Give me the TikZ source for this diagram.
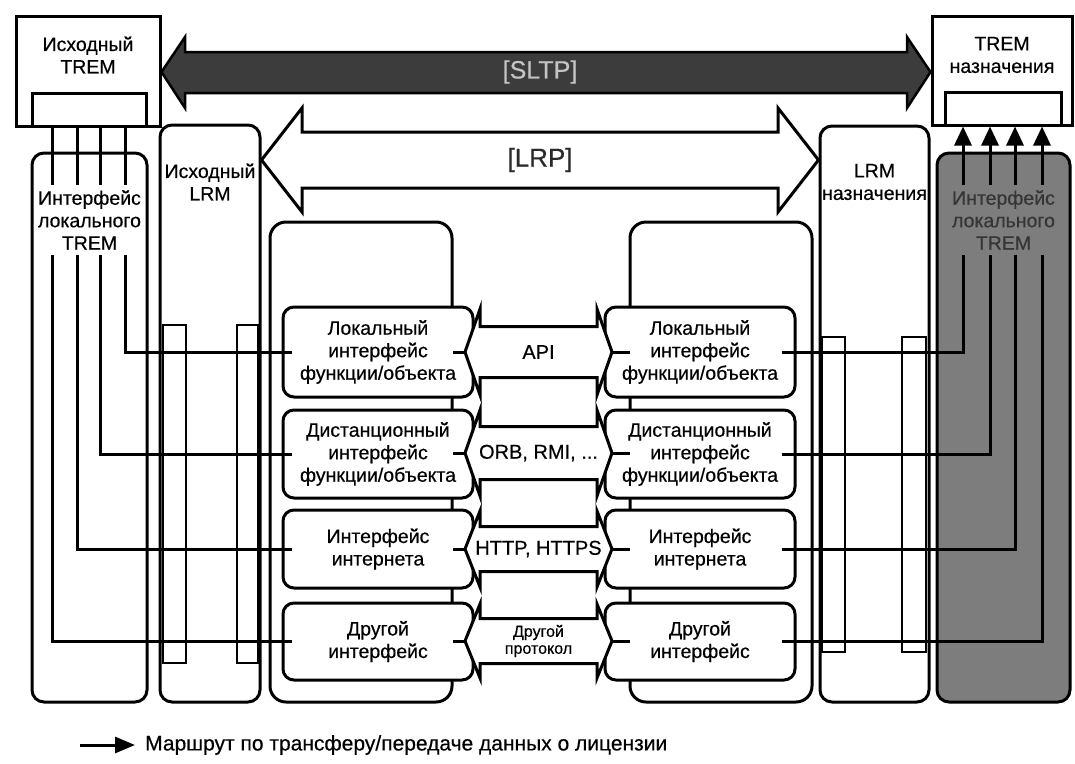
\documentclass[tikz,border=0pt]{standalone}
\usepackage{fontspec}
\setmainfont{Liberation Sans}[FakeBold=0.4]
\usetikzlibrary{arrows.meta,calc}
\definecolor{darkfill}{HTML}{3C3C3C}
\definecolor{midgray}{HTML}{7D7D7D}
\definecolor{sltptext}{HTML}{C4C4C4}
\definecolor{dtext}{HTML}{353535}
\definecolor{lrptext}{HTML}{2A2A2A}
\newcommand\fs[2]{\fontsize{#1}{#2}\selectfont}
\tikzset{
  every node/.style={font=\fs{19.5}{22.5}, align=center, inner sep=0pt},
  sqbox/.style={draw, line width=3pt, fill=white},
  rbox/.style={draw, line width=3pt, fill=white, rounded corners=12pt},
  bigbox/.style={draw, line width=3pt, fill=white, rounded corners=16pt},
  ibox/.style={draw, line width=3pt, fill=white, rounded corners=11pt, minimum width=190pt},
  slim/.style={draw, line width=1.4pt},
  route/.style={line width=3pt},
  routeup/.style={line width=3pt, -{Triangle[length=19pt,width=17pt]}},
  parr/.style={draw, line width=3pt, fill=white, line join=miter},
  lrpshape/.style={draw, line width=3pt, fill=white},
  sltpshape/.style={draw=black, line width=2.5pt, fill=darkfill},
  plabel/.style={font=\fs{20}{22.5}},
}
\newcommand\parrow[3]{%
  \draw[parr] (465,#1) -- (480,#1-#2) -- (480,#1-#3) -- (597,#1-#3) -- (597,#1-#2)
    -- (612,#1) -- (597,#1+#2) -- (597,#1+#3) -- (480,#1+#3) -- (480,#1+#2) -- cycle;
  \draw[route] (453,#1) -- (465,#1);
  \draw[route] (612,#1) -- (630,#1);
}
\begin{document}
\begin{tikzpicture}[x=1pt,y=-1pt]
\useasboundingbox (0,0) rectangle (1075,763);
\fill[white] (0,0) rectangle (1075,763);

% TREM boxes
\node[sqbox, minimum width=144pt, minimum height=110pt] (strem) at (88,71) {};
\node[sqbox, minimum width=114pt, minimum height=33pt] (srci) at (89,109.5) {};
\node[sqbox, minimum width=140pt, minimum height=109pt] (dtrem) at (1002,70.5) {};
\node[sqbox, minimum width=116pt, minimum height=33pt] (dsti) at (1003,108.5) {};

% LRM boxes
\node[rbox, minimum width=100pt, minimum height=577pt] (srclrm) at (210,413.5) {};
\node[rbox, minimum width=109pt, minimum height=576pt] (dstlrm) at (874.5,414) {};

% local TREM interface boxes
\node[rbox, minimum width=115pt, minimum height=549pt] (srcif) at (89.5,427.5) {};
\node[rbox, fill=midgray, minimum width=133pt, minimum height=549pt] (dstif) at (1003.5,427.5) {};

% slim rects in LRM boxes
\node[slim, minimum width=23pt, minimum height=338pt] (lr1) at (174.5,494) {};
\node[slim, minimum width=21pt, minimum height=338pt] (lr2) at (247.5,494) {};
\node[slim, minimum width=23pt, minimum height=315pt] (rr1) at (833.5,494.5) {};
\node[slim, minimum width=24pt, minimum height=315pt] (rr2) at (914,494.5) {};

% big middle boxes
\node[bigbox, minimum width=182pt, minimum height=480pt] (lbig) at (361,462) {};
\node[bigbox, minimum width=182pt, minimum height=480pt] (rbig) at (721,462) {};

% inner interface boxes
\node[ibox, minimum height=90pt] (li1) at (378,352) {};
\node[ibox, minimum height=88pt] (li2) at (378,454) {};
\node[ibox, minimum height=78pt] (li3) at (378,549) {};
\node[ibox, minimum height=77pt] (li4) at (378,641.5) {};
\node[ibox, minimum height=90pt] (ri1) at (700,352) {};
\node[ibox, minimum height=88pt] (ri2) at (700,454) {};
\node[ibox, minimum height=78pt] (ri3) at (700,549) {};
\node[ibox, minimum height=77pt] (ri4) at (700,641.5) {};

% SLTP arrow
\draw[sltpshape] (strem.east |- 0,72) -- (185,37) -- (185,52) -- (907,52) -- (907,37)
  -- (dtrem.west |- 0,72) -- (907,108) -- (907,93) -- (185,93) -- (185,108) -- cycle;
% LRP arrow
\draw[lrpshape] (srclrm.east |- 0,160) -- (302,108) -- (302,132) -- (778,132) -- (778,108)
  -- (dstlrm.west |- 0,160) -- (778,212) -- (778,188) -- (302,188) -- (302,212) -- cycle;

% protocol arrows
\parrow{352}{43}{25.5}
\parrow{453}{43}{26.5}
\parrow{549}{38}{22.5}
\parrow{641}{37}{22.5}

% routes
\coordinate (sa) at (125,0);
\coordinate (sb) at (100,0);
\coordinate (sc) at (77,0);
\coordinate (sd) at (52,0);
\coordinate (da) at (963,0);
\coordinate (db) at (990,0);
\coordinate (dc) at (1015,0);
\coordinate (dd) at (1042,0);
\draw[route] (srci.south -| sa) |- ([xshift=10pt]li1.west);
\draw[route] (srci.south -| sb) |- ([xshift=10pt]li2.west);
\draw[route] (srci.south -| sc) |- ([xshift=10pt]li3.west);
\draw[route] (srci.south -| sd) |- ([xshift=10pt]li4.west);
\draw[routeup] ([xshift=-15pt]ri1.east) -| (dsti.south -| da);
\draw[routeup] ([xshift=-15pt]ri2.east) -| (dsti.south -| db);
\draw[routeup] ([xshift=-15pt]ri3.east) -| (dsti.south -| dc);
\draw[routeup] ([xshift=-15pt]ri4.east) -| (dsti.south -| dd);

% texts
\node (tstrem) at (88,55) {Исходный\\TREM};
\node (tdtrem) at (1002,55) {TREM\\назначения};
\node (tslrm) at (210,182) {Исходный\\LRM};
\node (tdlrm) at (874.5,182) {LRM\\назначения};
\node[fill=white, inner xsep=2pt, inner ysep=5pt] (tsif) at (89.5,220) {Интерфейс\\локального\\TREM};
\node[fill=midgray, text=dtext, inner xsep=2pt, inner ysep=5pt] (tdif) at (1003.5,220) {Интерфейс\\локального\\TREM};

\node at (li1.center) {Локальный\\интерфейс\\функции/объекта};
\node at (li2.center) {Дистанционный\\интерфейс\\функции/объекта};
\node at (li3.center) {Интерфейс\\интернета};
\node at (li4.center) {Другой\\интерфейс};
\node at (ri1.center) {Локальный\\интерфейс\\функции/объекта};
\node at (ri2.center) {Дистанционный\\интерфейс\\функции/объекта};
\node at (ri3.center) {Интерфейс\\интернета};
\node at (ri4.center) {Другой\\интерфейс};

\node[plabel] (p1) at (538.5,352) {API};
\node[plabel] (p2) at (538.5,453) {ORB, RMI, ...};
\node[plabel] (p3) at (538.5,549) {HTTP, HTTPS};
\node[font=\fs{16}{17}] (p4) at (538.5,641) {Другой\\протокол};

\node[font=\fs{25}{27}, text=sltptext] (tsltp) at (540,72) {[SLTP]};
\node[font=\fs{26}{28}, text=lrptext] (tlrp) at (540,160) {[LRP]};

% legend
\coordinate (lg) at (80,745);
\node[anchor=west, font=\fs{21}{23}] (lgt) at (145,745) {Маршрут по трансферу/передаче данных о лицензии};
\draw[route, -{Triangle[length=20pt,width=16pt]}] (lg) -- ([xshift=-10pt]lgt.west);
\end{tikzpicture}
\end{document}
